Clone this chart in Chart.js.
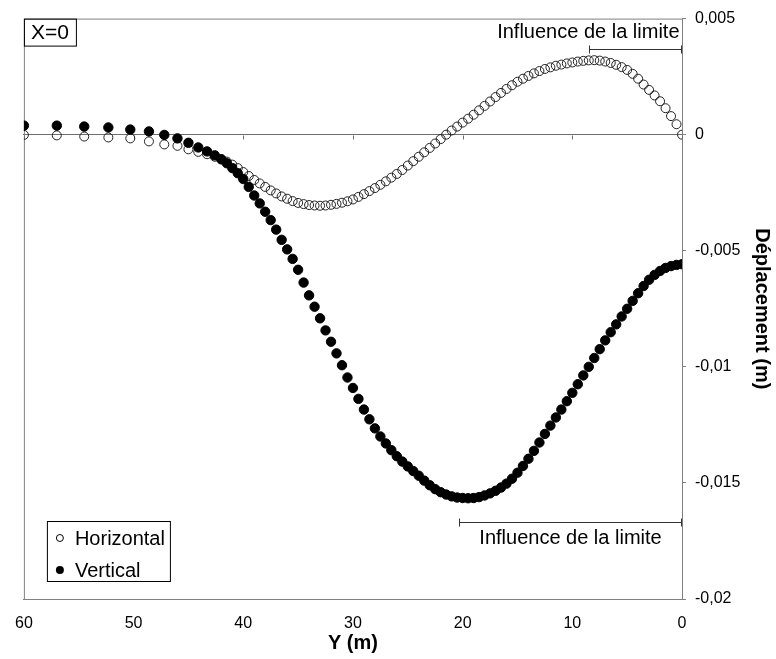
<!DOCTYPE html>
<html>
<head>
<meta charset="utf-8">
<script src="https://cdn.jsdelivr.net/npm/chart.js@4"></script>
<style>
  html, body { margin: 0; padding: 0; background: #fff; }
  #wrap { width: 776px; height: 659px; }
  canvas { display: block; }
</style>
</head>
<body>
<div id="wrap"><canvas id="chart" width="776" height="659"></canvas></div>
<script>
// position le long de la coupe (m)
const yPositions = [
  60, 57, 54.5, 52.3, 50.3, 48.6, 47.2, 46, 45, 44.1, 43.3, 42.6, 42, 41.5,
  41, 40.5, 40, 39.5, 39, 38.5, 38, 37.5, 37, 36.5, 36, 35.5, 35, 34.5, 34, 33.5,
  33, 32.5, 32, 31.5, 31, 30.5, 30, 29.5, 29, 28.5, 28, 27.5, 27, 26.5, 26, 25.5,
  25, 24.5, 24, 23.5, 23, 22.5, 22, 21.5, 21, 20.5, 20, 19.5, 19, 18.5, 18, 17.5,
  17, 16.5, 16, 15.5, 15, 14.5, 14, 13.5, 13, 12.5, 12, 11.5, 11, 10.5, 10, 9.5,
  9, 8.5, 8, 7.5, 7, 6.5, 6, 5.5, 5, 4.5, 4, 3.5, 3, 2.5, 2, 1.5, 1, 0.5, 0
];

// déplacement horizontal (m)
const horizontal = [
  -0.00001, -0.00003, -0.00008, -0.00012, -0.00016, -0.00029, -0.00042, -0.00048, -0.00063, -0.00074, -0.00084, -0.00095, -0.00106, -0.00116,
  -0.00129, -0.00144, -0.00161, -0.00178, -0.00195, -0.00210, -0.00225, -0.00240, -0.00253, -0.00266, -0.00276, -0.00286, -0.00294, -0.00299, -0.00303, -0.00305,
  -0.00306, -0.00305, -0.00302, -0.00298, -0.00293, -0.00287, -0.00279, -0.00268, -0.00256, -0.00243, -0.00230, -0.00216, -0.00201, -0.00185, -0.00169, -0.00152,
  -0.00133, -0.00114, -0.00095, -0.00076, -0.00057, -0.00038, -0.00019, 0.00000, 0.00018, 0.00035, 0.00052, 0.00069, 0.00086, 0.00105, 0.00124, 0.00143,
  0.00162, 0.00180, 0.00197, 0.00213, 0.00228, 0.00241, 0.00253, 0.00264, 0.00274, 0.00283, 0.00290, 0.00297, 0.00302, 0.00307, 0.00311, 0.00315,
  0.00318, 0.00320, 0.00321, 0.00319, 0.00315, 0.00309, 0.00301, 0.00291, 0.00279, 0.00262, 0.00241, 0.00216, 0.00193, 0.00169, 0.00144, 0.00114, 0.00080, 0.00045, 0.00000
];

// déplacement vertical (m)
const vertical = [
  0.00039, 0.00039, 0.00035, 0.00031, 0.00022, 0.00014, -0.00001, -0.00016, -0.00035, -0.00055, -0.00072, -0.00089, -0.00106, -0.00123,
  -0.00144, -0.00166, -0.00191, -0.00225, -0.00262, -0.00296, -0.00332, -0.00368, -0.00409, -0.00453, -0.00494, -0.00535, -0.00582, -0.00637, -0.00692, -0.00741,
  -0.00791, -0.00843, -0.00892, -0.00942, -0.00993, -0.01046, -0.01091, -0.01138, -0.01184, -0.01226, -0.01265, -0.01300, -0.01330, -0.01359, -0.01385, -0.01408,
  -0.01429, -0.01449, -0.01469, -0.01490, -0.01510, -0.01527, -0.01540, -0.01550, -0.01558, -0.01563, -0.01565, -0.01566, -0.01565, -0.01561, -0.01554, -0.01545,
  -0.01534, -0.01520, -0.01503, -0.01482, -0.01456, -0.01427, -0.01396, -0.01362, -0.01326, -0.01289, -0.01253, -0.01218, -0.01184, -0.01148, -0.01112, -0.01075,
  -0.01037, -0.01000, -0.00962, -0.00924, -0.00886, -0.00851, -0.00817, -0.00783, -0.00750, -0.00716, -0.00683, -0.00652, -0.00625, -0.00604, -0.00587, -0.00574, -0.00566, -0.00561, -0.00558
];

const seriesNames = ['Horizontal', 'Vertical'];

// zones "Influence de la limite" : [début, fin] en Y et niveau du trait
const topBracket = [8.5, 0.1];
const topBracketLevel = 0.0037;
const bottomBracket = [20.3, 0.1];
const bottomBracketLevel = -0.0167;
const bracketLabel = 'Influence de la limite';
const sectionLabel = 'X=0';

const FONT = 'Arial, "Liberation Sans", sans-serif';

function toPoints(values) {
  return yPositions.map((p, i) => ({ x: p, y: values[i] }));
}

function drawBracket(ctx, x1, x2, y) {
  ctx.beginPath();
  ctx.moveTo(x1, y); ctx.lineTo(x2, y);
  ctx.moveTo(x1, y - 4); ctx.lineTo(x1, y + 4);
  ctx.moveTo(x2, y - 4); ctx.lineTo(x2, y + 4);
  ctx.stroke();
}

const decorations = {
  id: 'decorations',
  beforeDatasetsDraw(chart) {
    const { ctx, chartArea: a, scales } = chart;
    ctx.save();
    ctx.strokeStyle = '#808080';
    ctx.lineWidth = 1;
    ctx.beginPath();
    ctx.moveTo(a.left + 0.5, a.bottom);
    ctx.lineTo(a.left + 0.5, a.top + 0.5);
    ctx.lineTo(a.right, a.top + 0.5);
    ctx.stroke();

    // petites graduations sous l'axe y=0
    const y0 = Math.round(scales.y.getPixelForValue(0)) + 0.5;
    ctx.strokeStyle = '#6e6e6e';
    ctx.beginPath();
    scales.x.ticks.forEach(t => {
      const px = Math.round(scales.x.getPixelForValue(t.value)) + 0.5;
      ctx.moveTo(px, y0);
      ctx.lineTo(px, y0 + 4);
    });
    ctx.stroke();
    ctx.restore();
  },
  afterDatasetsDraw(chart) {
    const { ctx, chartArea: a, scales } = chart;
    const sx = scales.x, sy = scales.y;
    ctx.save();

    // traits "Influence de la limite"
    ctx.strokeStyle = '#333';
    ctx.lineWidth = 1;
    const ty = Math.round(sy.getPixelForValue(topBracketLevel)) + 0.5;
    const tx1 = Math.round(sx.getPixelForValue(topBracket[0])) + 0.5;
    const tx2 = Math.round(sx.getPixelForValue(topBracket[1])) + 0.5;
    drawBracket(ctx, tx1, tx2, ty);
    const by = Math.round(sy.getPixelForValue(bottomBracketLevel)) + 0.5;
    const bx1 = Math.round(sx.getPixelForValue(bottomBracket[0])) + 0.5;
    const bx2 = Math.round(sx.getPixelForValue(bottomBracket[1])) + 0.5;
    drawBracket(ctx, bx1, bx2, by);

    ctx.fillStyle = '#000';
    ctx.font = '20px ' + FONT;
    ctx.textBaseline = 'middle';
    ctx.textAlign = 'right';
    ctx.fillText(bracketLabel, tx2 - 2, ty - 17);
    ctx.textAlign = 'center';
    ctx.fillText(bracketLabel, (bx1 + bx2) / 2, by + 16);

    // cadre X=0
    ctx.strokeStyle = '#000';
    ctx.strokeRect(a.left + 0.5, a.top + 0.5, 52, 27);
    ctx.font = '21px ' + FONT;
    ctx.fillText(sectionLabel, a.left + 26, a.top + 15);

    // légende
    const lx = a.left + 23, ly = a.bottom - 78;
    ctx.strokeRect(lx + 0.5, ly + 0.5, 123, 60);
    ctx.font = '20px ' + FONT;
    ctx.textAlign = 'left';
    ctx.lineWidth = 1;
    ctx.beginPath();
    ctx.arc(lx + 13, ly + 17, 3.5, 0, Math.PI * 2);
    ctx.stroke();
    ctx.fillText(seriesNames[0], lx + 28, ly + 18);
    ctx.beginPath();
    ctx.arc(lx + 13, ly + 49, 4, 0, Math.PI * 2);
    ctx.fill();
    ctx.fillText(seriesNames[1], lx + 28, ly + 50);

    ctx.restore();
  }
};

new Chart(document.getElementById('chart'), {
  type: 'scatter',
  data: {
    datasets: [
      {
        label: seriesNames[0],
        data: toPoints(horizontal),
        pointStyle: 'circle',
        pointRadius: 4.5,
        pointBorderWidth: 1,
        borderColor: '#222',
        backgroundColor: 'rgba(255,255,255,0)',
        order: 2
      },
      {
        label: seriesNames[1],
        data: toPoints(vertical),
        pointStyle: 'circle',
        pointRadius: 4.7,
        pointBorderWidth: 1,
        borderColor: '#000',
        backgroundColor: '#000',
        order: 1
      }
    ]
  },
  options: {
    responsive: false,
    animation: false,
    devicePixelRatio: 1,
    events: [],
    layout: { padding: { left: 22, top: 13, right: 0, bottom: 0 } },
    plugins: { legend: { display: false }, tooltip: { enabled: false } },
    scales: {
      x: {
        type: 'linear',
        position: 'bottom',
        reverse: true,
        min: 0, max: 60,
        grid: { display: false, drawTicks: false },
        border: { color: '#808080', width: 1 },
        ticks: { stepSize: 10, padding: 15, color: '#000', font: { family: FONT, size: 16 } },
        title: { display: true, text: 'Y (m)', color: '#000', font: { family: FONT, size: 20, weight: 'bold' }, padding: { top: 0, bottom: 4 } },
        afterFit(scale) { scale.height = 60; }
      },
      x0: {
        type: 'linear',
        axis: 'x',
        position: { y: 0 },
        reverse: true,
        min: 0, max: 60,
        grid: { drawOnChartArea: false, drawTicks: false },
        border: { color: '#6e6e6e', width: 1 },
        ticks: { stepSize: 10, display: false }
      },
      y: {
        type: 'linear',
        position: 'right',
        min: -0.02, max: 0.005,
        grid: { drawOnChartArea: false, drawTicks: true, tickLength: 4, color: '#808080' },
        border: { color: '#808080', width: 1 },
        ticks: {
          stepSize: 0.005, padding: 9, color: '#000', font: { family: FONT, size: 16 },
          callback: v => String(Math.round(v * 1000) / 1000).replace('.', ',')
        },
        title: { display: true, text: 'Déplacement (m)', color: '#000', font: { family: FONT, size: 20, weight: 'bold' }, padding: { top: 2, bottom: 0 } },
        afterFit(scale) { scale.width = 94; }
      }
    }
  },
  plugins: [decorations]
});
</script>
</body>
</html>
